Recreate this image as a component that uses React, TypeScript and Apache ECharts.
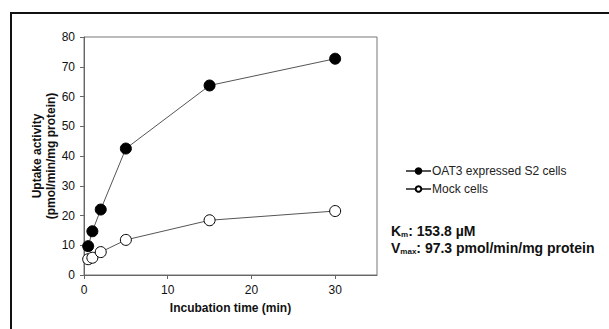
import React, { useEffect, useRef } from "react";
import * as echarts from "echarts";

const timesMin = [0.5, 1, 2, 5, 15, 30];
const oat3Values = [9.7, 14.7, 22.0, 42.5, 63.7, 72.7];
const mockValues = [5.3, 5.8, 7.7, 11.8, 18.4, 21.5];
const xTicks = [0, 10, 20, 30];
const seriesNames = ["OAT3 expressed S2 cells", "Mock cells"];

export default function App() {
  const ref = useRef<HTMLDivElement>(null);
  useEffect(() => {
    const chart = echarts.init(ref.current!, null, { renderer: "svg" });
    const font = "Arial, 'Liberation Sans', sans-serif";
    chart.setOption({
      animation: false,
      backgroundColor: "#ffffff",
      textStyle: { fontFamily: font },
      grid: {
        left: 84,
        top: 37,
        width: 293,
        height: 238,
        show: true,
        borderColor: "#777",
        borderWidth: 1,
        backgroundColor: "transparent",
      },
      legend: {
        left: 400,
        top: 160,
        orient: "vertical",
        itemGap: 6,
        itemWidth: 25,
        itemHeight: 7,
        textStyle: { fontSize: 12, color: "#222", fontFamily: font, padding: [0, 0, 0, -4] },
        data: seriesNames.map((n) => ({ name: n })),
      },
      xAxis: {
        type: "value",
        min: 0,
        max: 35,
        interval: 10,
        name: "Incubation time (min)",
        nameLocation: "middle",
        nameGap: 27,
        nameTextStyle: { fontSize: 12, fontWeight: "bold", color: "#111", fontFamily: font },
        axisLine: { show: true, lineStyle: { color: "#666", width: 1 } },
        axisTick: { show: true, length: 4, lineStyle: { color: "#666" }, customValues: xTicks },
        axisLabel: { fontSize: 12, color: "#111", margin: 9, customValues: xTicks },
        splitLine: { show: false },
      },
      yAxis: {
        type: "value",
        min: 0,
        max: 80,
        interval: 10,
        name: "Uptake activity\n(pmol/min/mg protein)",
        nameLocation: "middle",
        nameRotate: 90,
        nameGap: 25,
        nameTextStyle: { fontSize: 12, fontWeight: "bold", color: "#111", lineHeight: 14, fontFamily: font },
        axisLine: { show: true, lineStyle: { color: "#666", width: 1 } },
        axisTick: { show: true, length: 4, lineStyle: { color: "#666" } },
        axisLabel: { fontSize: 12, color: "#111", margin: 9 },
        splitLine: { show: false },
      },
      series: [
        {
          name: seriesNames[0],
          type: "line",
          data: timesMin.map((t, i) => [t, oat3Values[i]]),
          symbol: "circle",
          symbolSize: 11,
          lineStyle: { color: "#555", width: 1 },
          itemStyle: { color: "#000", borderColor: "#000", borderWidth: 1 },
          z: 3,
        },
        {
          name: seriesNames[1],
          type: "line",
          data: timesMin.map((t, i) => [t, mockValues[i]]),
          symbol: "circle",
          symbolSize: 11,
          lineStyle: { color: "#555", width: 1 },
          itemStyle: { color: "#fff", borderColor: "#000", borderWidth: 1 },
          z: 2,
        },
      ],
      graphic: [
        {
          type: "rect",
          shape: { x: 11, y: 13, width: 640, height: 340 },
          style: { fill: "none", stroke: "#111", lineWidth: 2 },
          silent: true,
        },
        {
          type: "text",
          left: 391,
          top: 223,
          style: {
            text: "{b|K}{s|m}{b|: 153.8 µM}\n{b|V}{s|max}{b|: 97.3 pmol/min/mg protein}",
            rich: {
              b: { fontSize: 14, fontWeight: "bold", fill: "#111", fontFamily: font, lineHeight: 17 },
              s: { fontSize: 8, fontWeight: "bold", fill: "#111", fontFamily: font, lineHeight: 17, padding: [7, 0, 0, 0] },
            },
          },
        },
      ],
    });
    return () => chart.dispose();
  }, []);
  return (
    <div
      ref={ref}
      style={{ position: "fixed", left: 0, top: 0, width: 609, height: 329 }}
    />
  );
}
